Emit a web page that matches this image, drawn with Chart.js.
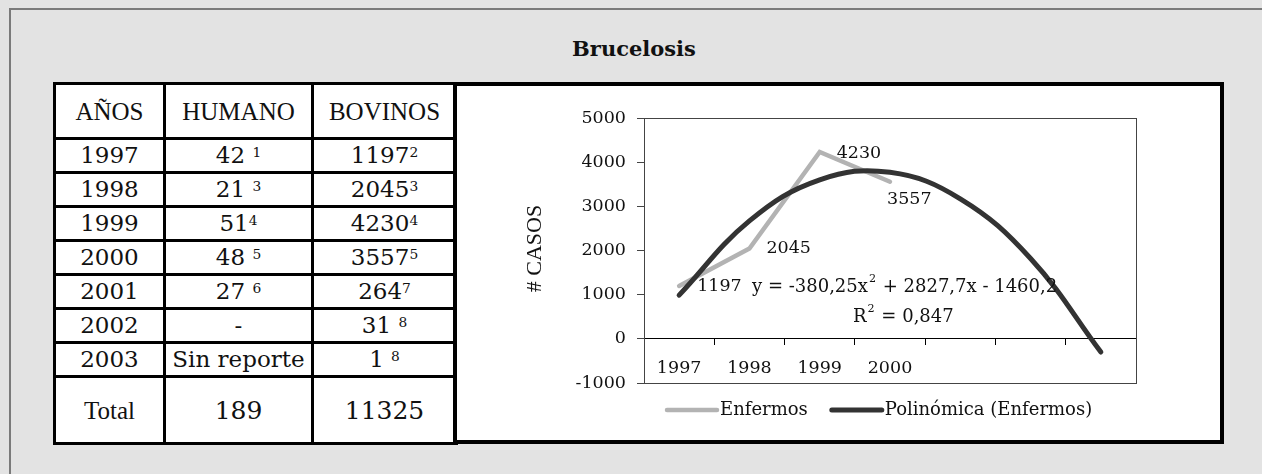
<!DOCTYPE html>
<html>
<head>
<meta charset="utf-8">
<script src="https://cdn.jsdelivr.net/npm/chart.js"></script>
<style>
html,body{margin:0;padding:0;background:#e3e3e3;width:1262px;height:474px;overflow:hidden}
#frame{position:absolute;left:9px;top:8px;width:1400px;height:520px;border:2px solid #7a7a7a;box-sizing:border-box}
#title{position:absolute;left:0;width:1268px;top:36px;text-align:center;font:bold 21px "DejaVu Serif";color:#111}
#tbl{position:absolute;left:53px;top:82px;border-collapse:collapse;table-layout:fixed;background:#fff;font-family:"DejaVu Serif";font-size:23px;color:#111}
#tbl td{border:3px solid #000;text-align:center;padding:0;line-height:1;white-space:pre}
#tbl sup{font-size:0.6em;vertical-align:0.45em;line-height:0}
#tbl .hd td{font-family:"Liberation Serif";font-size:25px}
#tbl .tot td{font-size:25px}
#tbl .tot td:first-child{font-family:"Liberation Serif"}
#box{position:absolute;left:453px;top:82px;width:771px;height:362px;background:#fff;border:4px solid #000;box-sizing:border-box}
#wrap{position:absolute;left:459px;top:86px;width:761px;height:355px}
</style>
</head>
<body>
<div id="frame"></div>
<div id="title">Brucelosis</div>
<table id="tbl">
<colgroup><col style="width:110px"><col style="width:148px"><col style="width:144px"></colgroup>
<tbody id="tb"></tbody>
</table>
<div id="box"></div>
<div id="wrap"><canvas id="chart"></canvas></div>
<script>
// tabla
const cabecera = ["AÑOS", "HUMANO", "BOVINOS"]
const anios = ["1997", "1998", "1999", "2000", "2001", "2002", "2003"]
const humano = ["42 ", "21 ", "51", "48 ", "27 ", "-", "Sin reporte"]
const humanoRef = ["1", "3", "4", "5", "6", "", ""]
const bovinos = ["1197", "2045", "4230", "3557", "264", "31 ", "1 "]
const bovinosRef = ["2", "3", "4", "5", "7", "8", "8"]
const totales = ["Total", "189", "11325"]

// grafico
const categorias = ["1997", "1998", "1999", "2000", "", "", ""]
const enfermos = [1197, 2045, 4230, 3557, null, null, null]
const polinomica = [990, 2670, 3600, 3770, 3170, 1820, -300]
const yMin = -1000
const yMax = 5000
const yPaso = 1000
const tituloY = "# CASOS"
const ecuacion = ["y = -380,25x", "2", " + 2827,7x - 1460,2"]
const r2 = ["R", "2", " = 0,847"]

let html = `<tr class="hd" style="height:55px">${cabecera.map(c=>`<td>${c}</td>`).join("")}</tr>`
for(let i=0;i<anios.length;i++){
html += `<tr style="height:34px"><td>${anios[i]}</td>` +
`<td>${humano[i]}${humanoRef[i] ? `<sup>${humanoRef[i]}</sup>` : ""}</td>` +
`<td>${bovinos[i]}<sup>${bovinosRef[i]}</sup></td></tr>`
}
html += `<tr class="tot" style="height:67px">${totales.map(c=>`<td>${c}</td>`).join("")}</tr>`
document.getElementById("tb").innerHTML = html

const serif = '"DejaVu Serif", serif'
const times = '"Liberation Serif", serif'
const fs = 17.5
const fuente = (s, fam) => `${s}px ${fam || serif}`

function textoSup(ctx, parts, x, y, size){
ctx.font = fuente(size)
ctx.fillText(parts[0], x, y)
x += ctx.measureText(parts[0]).width
ctx.font = fuente(size*0.62)
ctx.fillText(parts[1], x+1, y-8)
x += ctx.measureText(parts[1]).width + 2
ctx.font = fuente(size)
ctx.fillText(parts[2], x, y)
}

// textos del grafico (ejes, leyenda, etiquetas, ecuacion)
const textos = {
id:"textos",
afterDatasetsDraw(chart){
const ctx = chart.ctx
const area = chart.chartArea
const xs = chart.scales.x
const ys = chart.scales.y
ctx.save()
// marco del area
ctx.strokeStyle = "#444"
ctx.lineWidth = 1
ctx.strokeRect(Math.round(area.left)+0.5, Math.round(area.top)+0.5, Math.round(area.right-area.left), Math.round(area.bottom-area.top))
ctx.fillStyle = "#111"
ctx.textBaseline = "middle"
ctx.font = fuente(fs)

// eje y
ctx.textAlign = "right"
ys.ticks.forEach(t=>{
ctx.fillText(String(t.value), area.left-18, ys.getPixelForValue(t.value))
})
// eje x (cruza en 0)
ctx.textAlign = "center"
const y0 = ys.getPixelForValue(0)
categorias.forEach((c,i)=>{
if(c) ctx.fillText(c, xs.getPixelForValue(i), y0+30)
})
// titulo eje y
ctx.save()
ctx.translate(area.left-109, (area.top+area.bottom)/2-2)
ctx.rotate(-Math.PI/2)
ctx.font = fuente(22, times)
ctx.fillText(tituloY, 0, 0)
ctx.restore()

// etiquetas de datos
ctx.textAlign = "left"
ctx.font = fuente(fs)
const desp = [[18,0],[17,0],[17,1],[-3,18]]
const meta = chart.getDatasetMeta(0)
meta.data.forEach((p,i)=>{
if(enfermos[i]==null) return
ctx.fillText(String(enfermos[i]), p.x+desp[i][0], p.y+desp[i][1])
})
textoSup(ctx, ecuacion, area.left+108, area.top+169, 18)
textoSup(ctx, r2, area.left+209, area.top+199, 18)

// leyenda
const ly = area.bottom + 27
let lx = area.left + 23
ctx.lineCap = "round"
chart.data.datasets.forEach(ds=>{
ctx.strokeStyle = ds.borderColor
ctx.lineWidth = ds.borderWidth
ctx.beginPath()
ctx.moveTo(lx, ly)
ctx.lineTo(lx+50, ly)
ctx.stroke()
ctx.font = fuente(18)
ctx.fillText(ds.label, lx+53, ly)
lx += 53 + ctx.measureText(ds.label).width + 24
})
ctx.restore()
}
}

const chart = new Chart(document.getElementById("chart"), {
type:"line",
data:{
labels:categorias,
datasets:[
{label:"Enfermos", data:enfermos, borderColor:"#b3b3b3", backgroundColor:"#b3b3b3", borderWidth:4.5, pointRadius:0, tension:0, borderCapStyle:"round", order:2},
{label:"Polinómica (Enfermos)", data:polinomica, borderColor:"#333333", backgroundColor:"#333333", borderWidth:5, pointRadius:0, tension:0.4, borderCapStyle:"round", order:1}
]
},
options:{
responsive:true,
maintainAspectRatio:false,
animation:false,
layout:{padding:{left:0, top:32, right:84, bottom:58}},
plugins:{legend:{display:false}, tooltip:{enabled:false}},
scales:{
x:{
position:{y:0},
offset:true,
grid:{drawOnChartArea:false, offset:true, tickLength:6, color:"#000"},
border:{color:"#000", width:1},
ticks:{display:false, autoSkip:false}
},
y:{
min:yMin, max:yMax,
ticks:{display:false, stepSize:yPaso},
grid:{drawOnChartArea:false, tickLength:7, color:"#444"},
border:{color:"#444"},
afterFit(s){ s.width = 185 }
}
}
},
plugins:[textos]
})

document.fonts.ready.then(()=>chart.draw())
setTimeout(()=>chart.draw(), 300)
</script>
</body>
</html>
